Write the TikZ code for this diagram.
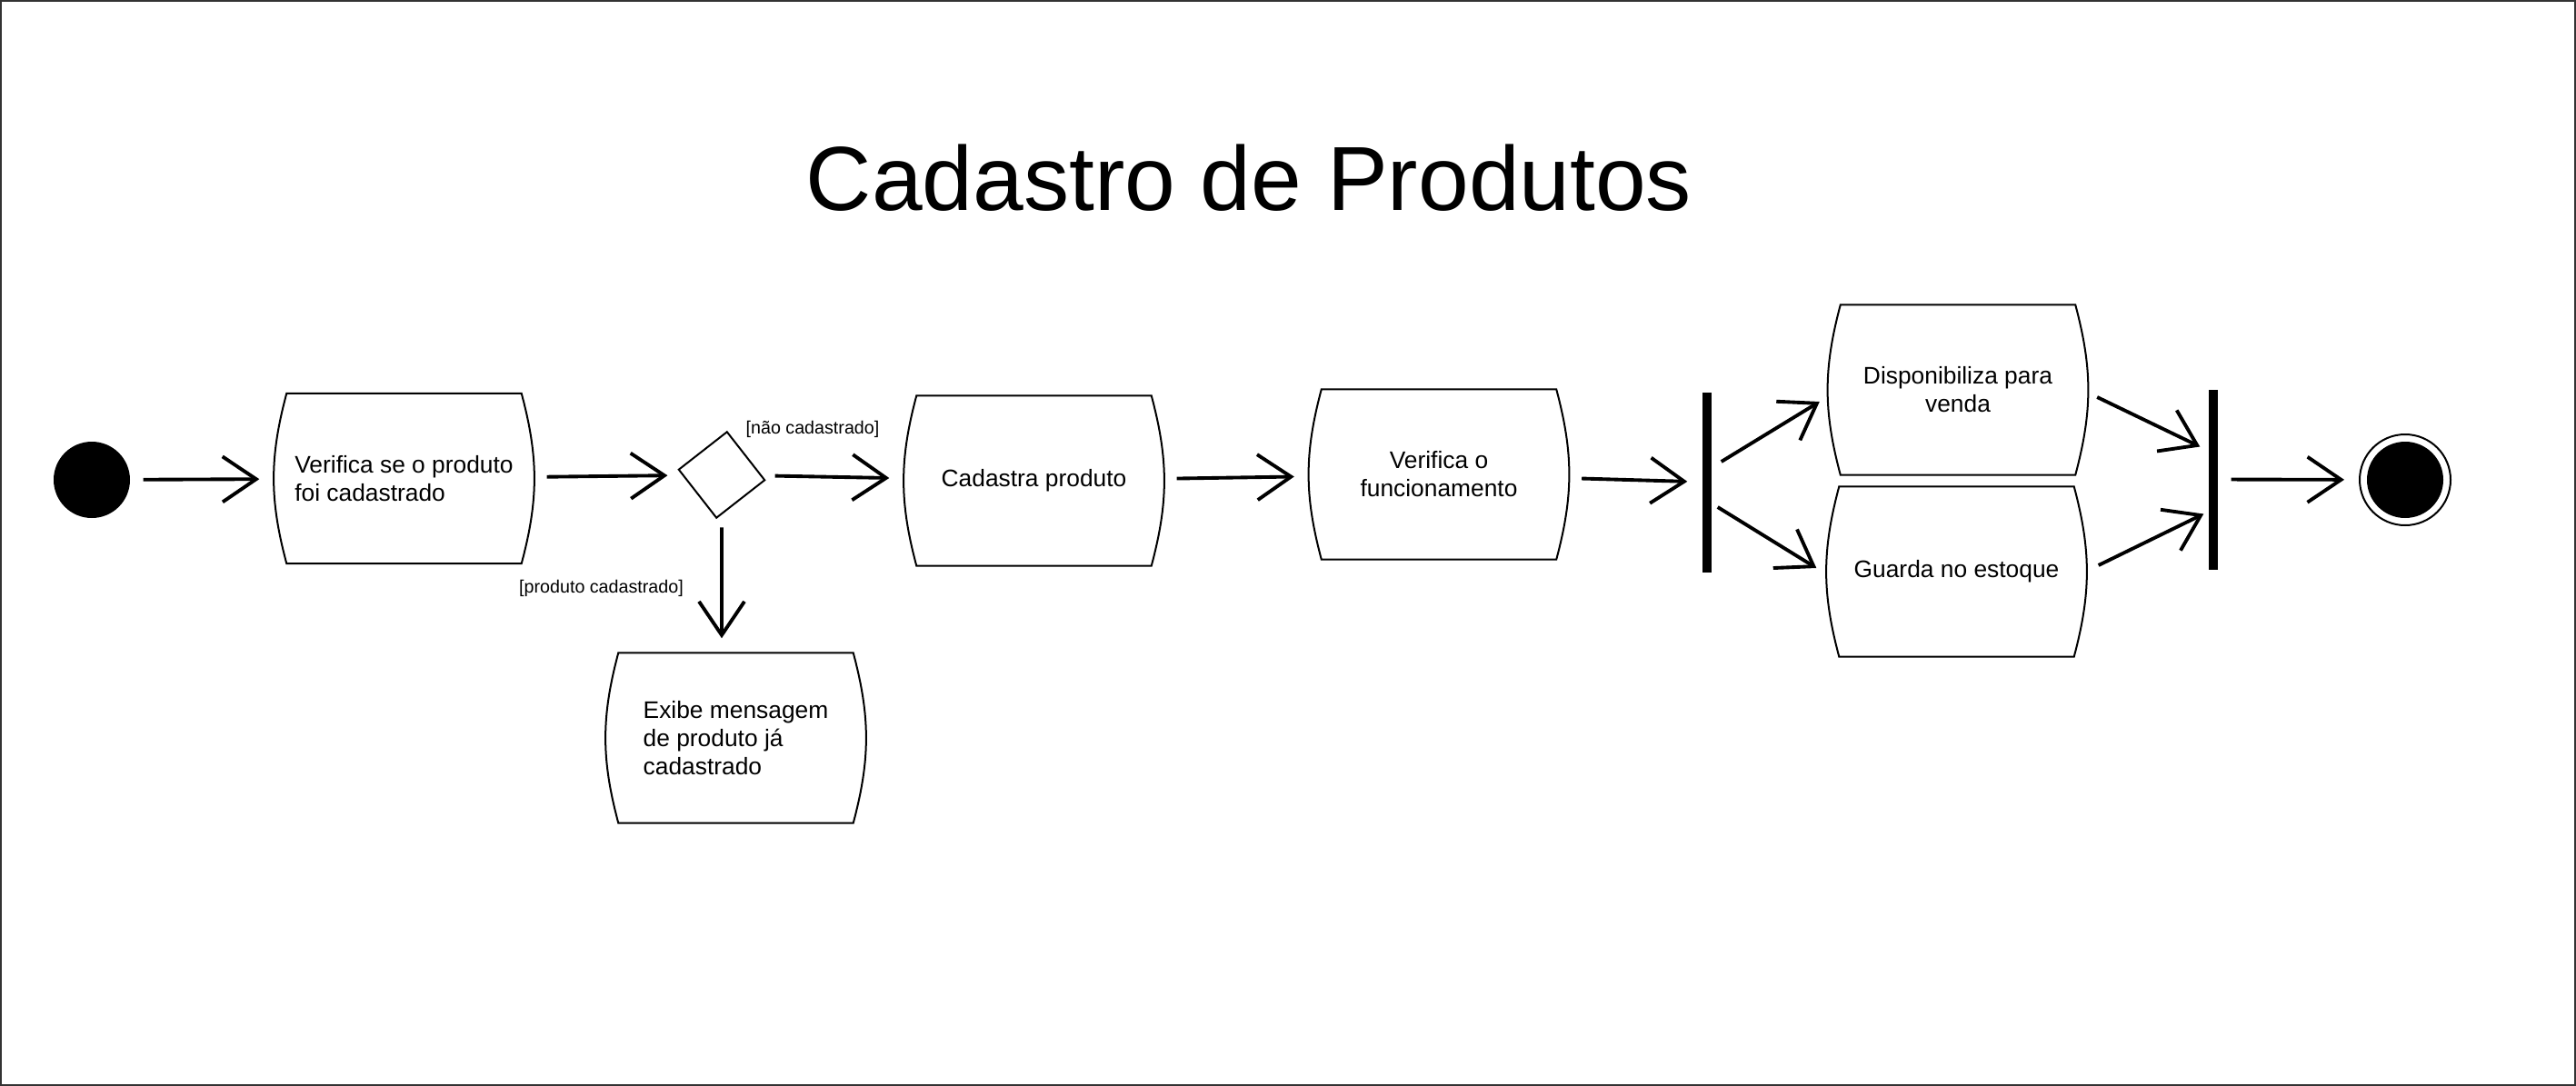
\documentclass[tikz,border=0pt]{standalone}
\usepackage{fontspec}
\setmainfont{Liberation Sans}
\usetikzlibrary{arrows.meta,shapes.geometric,positioning}

\tikzset{
  act/.style={minimum width=2.85cm,minimum height=1.86cm,inner sep=0,align=left,font=\fontsize{7.5}{8.8}\selectfont},
  flow/.style={-{Straight Barb[length=3.7mm,width=5mm]},line width=1.1pt,shorten <=1.4mm,shorten >=1.6mm},
  diag/.style={flow,shorten <=0pt,shorten >=0pt},
  bar/.style={fill=black,minimum width=1mm,minimum height=1.98cm,inner sep=0},
  guard/.style={font=\fontsize{5.6}{6.5}\selectfont,inner sep=0},
}

\begin{document}
\begin{tikzpicture}
\useasboundingbox(0,0)rectangle(28.34,-11.95);
%frame
\draw[black!80,line width=0.7pt](0.01,-0.01)rectangle(28.33,-11.94);
%title
\node[font=\fontsize{28.5}{34}\selectfont,anchor=base](titulo)at(13.74,-2.31){Cadastro de Produtos};
%nodes
\node[circle,fill=black,minimum size=0.84cm,inner sep=0](ini)at(1.01,-5.28){};
\node[act](verif)at(4.445,-5.265){Verifica se o produto\\foi cadastrado};
\node[diamond,draw,line width=0.57pt,minimum width=0.96cm,minimum height=0.96cm,inner sep=0,rotate=-7](dec)at(7.94,-5.225){};
\node[act](cad)at(11.375,-5.29){Cadastra produto};
\node[act](exibe)at(8.095,-8.12){Exibe mensagem\\de produto já\\cadastrado};
\node[act,align=center](func)at(15.83,-5.22){Verifica o\\funcionamento};
\node[bar](fork)at(18.78,-5.305){};
\node[act,align=center](disp)at(21.54,-4.29){Disponibiliza para\\venda};
\node[act,align=center](guarda)at(21.525,-6.29){Guarda no estoque};
\node[bar](join)at(24.35,-5.275){};
\node[circle,draw,line width=0.57pt,minimum size=1cm,inner sep=0](fim)at(26.46,-5.28){};
\fill(fim.center)circle(0.42);
%activity outlines
\foreach \n in {verif,cad,exibe,func,disp,guarda}{
\draw[line width=0.57pt]([xshift=1.4mm]\n.north west)--([xshift=-1.4mm]\n.north east)to[bend left=15]([xshift=-1.4mm]\n.south east)--([xshift=1.4mm]\n.south west)to[bend left=15]([xshift=1.4mm]\n.north west)--cycle;
}
%transitions
\draw[flow](ini)--(verif);
\draw[flow](verif)--(dec);
\draw[flow](dec)--(cad);
\draw[flow](dec)--(dec|-exibe.north);
\draw[flow](cad)--(func);
\draw[flow](func)--(fork);
\draw[diag]([xshift=1mm,yshift=2.25mm]fork.east)--([xshift=-0.9mm,yshift=-1.3mm]disp.west);
\draw[diag]([xshift=0.6mm,yshift=-2.75mm]fork.east)--([xshift=-1.1mm,yshift=0.4mm]guarda.west);
\draw[diag]([xshift=1mm,yshift=-0.8mm]disp.east)--([xshift=-0.9mm,yshift=3.6mm]join.west);
\draw[diag]([xshift=1.3mm,yshift=0.7mm]guarda.east)--([xshift=-0.5mm,yshift=-3.8mm]join.west);
\draw[flow](join)--(fim);
%guards
\node[guard,anchor=west](naocad)at(8.20,-4.72){[não cadastrado]};
\node[guard](prodcad)at(6.615,-6.47){[produto cadastrado]};
\end{tikzpicture}
\end{document}
